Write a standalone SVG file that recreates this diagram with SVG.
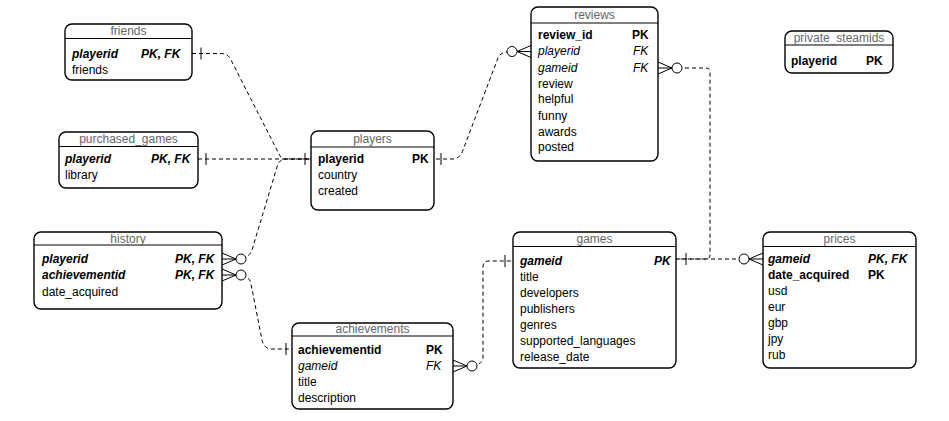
<svg xmlns="http://www.w3.org/2000/svg" xmlns:xlink="http://www.w3.org/1999/xlink" width="949" height="421" viewBox="0 0 949 421">
<style>
text{font-family:"Liberation Sans",Arial,sans-serif;font-size:12px;fill:#000}
.t{fill:#666;text-anchor:middle}
.b{font-weight:bold}
.i{font-style:italic}
.bi{font-weight:bold;font-style:italic}
.box{fill:#fff;stroke:#000;stroke-width:1.4}
.hd{stroke:#000;stroke-width:1}
.c{fill:none;stroke:#000;stroke-width:1;stroke-dasharray:4 3}
.m{fill:none;stroke:#000;stroke-width:1}
</style>
<defs>
<g id="zm"><path class="m" d="M0,-6 L14,0 M0,0 H14 M0,6 L14,0"/><circle cx="19" cy="0" r="5" fill="#fff" stroke="#000" stroke-width="1"/></g>
<path id="one" class="m" d="M0,-6 V6"/>
</defs>
<rect width="949" height="421" fill="#fff"/>
<g id="connectors">
<path class="c" d="M192,53.5 H221 Q228,53.5 231,60 L279,154 Q281,159 286,159 H311"/>
<path class="c" d="M198,159 H311"/>
<path class="c" d="M242,259 Q250,256 252,250 L277,167 Q279,159 286,159 H311"/>
<path class="c" d="M242,275 Q250,277 251,284 L262,340 Q264,349 272,349 H292"/>
<path class="c" d="M510,51.5 Q500,52 498,58 L463,150 Q460,159 452,159 H434"/>
<path class="c" d="M678,68 H706 Q710,68 710,72 V255 Q710,259 706,259 H676"/>
<path class="c" d="M472,366 Q483,364 483,358 V267 Q483,261 489,261 H513"/>
<path class="c" d="M676,259 H750"/>
<use xlink:href="#zm" transform="translate(222,259)"/>
<use xlink:href="#zm" transform="translate(222,275)"/>
<use xlink:href="#zm" transform="translate(531,51.5) scale(-1,1)"/>
<use xlink:href="#zm" transform="translate(658,68)"/>
<use xlink:href="#zm" transform="translate(453,366)"/>
<use xlink:href="#zm" transform="translate(763,259) scale(-1,1)"/>
<use xlink:href="#one" transform="translate(201,53.5)"/>
<use xlink:href="#one" transform="translate(206,159)"/>
<use xlink:href="#one" transform="translate(305,159)"/>
<use xlink:href="#one" transform="translate(441,159)"/>
<use xlink:href="#one" transform="translate(286,349)"/>
<use xlink:href="#one" transform="translate(505,261)"/>
<use xlink:href="#one" transform="translate(686,259)"/>
</g>
<g id="friends">
<rect class="box" x="65" y="24" width="127" height="56" rx="7"/>
<line class="hd" x1="65" y1="38.5" x2="192" y2="38.5"/>
<text class="t" x="128.5" y="35">friends</text>
<text class="bi" x="72" y="58">playerid</text><text class="bi" x="141" y="58">PK, FK</text>
<text x="72" y="74">friends</text>
</g>
<g id="purchased_games">
<rect class="box" x="59" y="132" width="139" height="56" rx="7"/>
<line class="hd" x1="59" y1="146.5" x2="198" y2="146.5"/>
<text class="t" x="128.5" y="143">purchased_games</text>
<text class="bi" x="65" y="163">playerid</text><text class="bi" x="151" y="163">PK, FK</text>
<text x="65" y="179">library</text>
</g>
<g id="history">
<rect class="box" x="34" y="232" width="188" height="77" rx="7"/>
<line class="hd" x1="34" y1="245" x2="222" y2="245"/>
<text class="t" x="128" y="243">history</text>
<text class="bi" x="42" y="263">playerid</text><text class="bi" x="175" y="263">PK, FK</text>
<text class="bi" x="42" y="279">achievementid</text><text class="bi" x="175" y="279">PK, FK</text>
<text x="42" y="296">date_acquired</text>
</g>
<g id="players">
<rect class="box" x="311" y="131" width="123" height="79" rx="7"/>
<line class="hd" x1="311" y1="147" x2="434" y2="147"/>
<text class="t" x="372.5" y="143">players</text>
<text class="b" x="318" y="163">playerid</text><text class="b" x="412" y="163">PK</text>
<text x="318" y="179">country</text>
<text x="318" y="195">created</text>
</g>
<g id="reviews">
<rect class="box" x="531" y="7" width="127" height="154" rx="7"/>
<line class="hd" x1="531" y1="23" x2="658" y2="23"/>
<text class="t" x="594.5" y="19">reviews</text>
<text class="b" x="538" y="39">review_id</text><text class="b" x="632" y="39">PK</text>
<text class="i" x="538" y="55">playerid</text><text class="i" x="633" y="55">FK</text>
<text class="i" x="538" y="72">gameid</text><text class="i" x="633" y="72">FK</text>
<text x="538" y="88">review</text>
<text x="538" y="103">helpful</text>
<text x="538" y="120">funny</text>
<text x="538" y="136">awards</text>
<text x="538" y="151">posted</text>
</g>
<g id="private_steamids">
<rect class="box" x="785" y="31" width="108" height="42" rx="7"/>
<line class="hd" x1="785" y1="45" x2="893" y2="45"/>
<text class="t" x="839" y="42">private_steamids</text>
<text class="b" x="791" y="65">playerid</text><text class="b" x="866" y="65">PK</text>
</g>
<g id="games">
<rect class="box" x="513" y="232" width="163" height="136" rx="7"/>
<line class="hd" x1="513" y1="246.5" x2="676" y2="246.5"/>
<text class="t" x="594.5" y="243">games</text>
<text class="bi" x="520" y="265">gameid</text><text class="bi" x="654" y="265">PK</text>
<text x="520" y="281">title</text>
<text x="520" y="297">developers</text>
<text x="520" y="313">publishers</text>
<text x="520" y="329">genres</text>
<text x="520" y="345">supported_languages</text>
<text x="520" y="361">release_date</text>
</g>
<g id="prices">
<rect class="box" x="763" y="232" width="153" height="136" rx="7"/>
<line class="hd" x1="763" y1="246.5" x2="916" y2="246.5"/>
<text class="t" x="839.5" y="243">prices</text>
<text class="bi" x="768" y="263">gameid</text><text class="bi" x="868" y="263">PK, FK</text>
<text class="b" x="768" y="279">date_acquired</text><text class="b" x="868" y="279">PK</text>
<text x="768" y="295">usd</text>
<text x="768" y="311">eur</text>
<text x="768" y="327">gbp</text>
<text x="768" y="343">jpy</text>
<text x="768" y="359">rub</text>
</g>
<g id="achievements">
<rect class="box" x="292" y="323" width="161" height="86" rx="7"/>
<line class="hd" x1="292" y1="336" x2="453" y2="336"/>
<text class="t" x="372.5" y="333">achievements</text>
<text class="b" x="298" y="354">achievementid</text><text class="b" x="426" y="354">PK</text>
<text class="i" x="298" y="370">gameid</text><text class="i" x="426" y="370">FK</text>
<text x="298" y="386">title</text>
<text x="298" y="402">description</text>
</g>
</svg>
